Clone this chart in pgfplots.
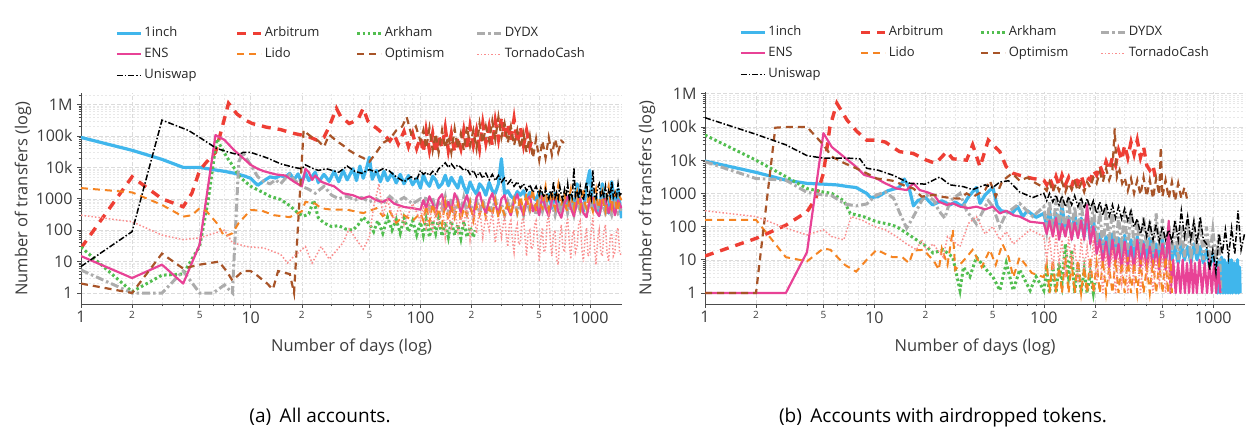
\documentclass[border=0pt]{standalone}
\usepackage{pgfplots}
\pgfplotsset{compat=1.18}
\usepackage{fontspec}
\setmainfont{Open Sans}
\definecolor{c1inch}{RGB}{64,182,236}
\definecolor{carb}{RGB}{238,62,52}
\definecolor{cark}{RGB}{82,190,80}
\definecolor{cdydx}{RGB}{172,172,172}
\definecolor{cens}{RGB}{232,66,150}
\definecolor{clido}{RGB}{245,132,34}
\definecolor{copt}{RGB}{168,84,40}
\definecolor{ctc}{RGB}{250,142,142}
\definecolor{cuni}{RGB}{0,0,0}
\definecolor{txt}{RGB}{60,60,60}
\newcommand\smalltick{\fontsize{10bp}{12bp}\selectfont}
\tikzset{
 s1inch/.style={c1inch,line width=3.2bp,solid,line join=round},
 sarb/.style={carb,line width=3.4bp,dash pattern=on 9bp off 7bp},
 sark/.style={cark,line width=3bp,dash pattern=on 2.6bp off 2.6bp},
 sdydx/.style={cdydx,line width=3bp,dash pattern=on 8bp off 3bp on 2.5bp off 3bp},
 sens/.style={cens,line width=2.2bp,solid,line join=round},
 slido/.style={clido,line width=2bp,dash pattern=on 7bp off 5bp},
 sopt/.style={copt,line width=2.2bp,dash pattern=on 7bp off 5bp},
 stc/.style={ctc,line width=1.5bp,dash pattern=on 1.5bp off 2bp},
 suni/.style={cuni,line width=1.5bp,dash pattern=on 6bp off 2bp on 1.5bp off 2bp},
}
\pgfplotsset{
 legend image code/.code={\draw[#1] (0bp,0bp) -- (24bp,0bp);},
 myaxis/.style={
  scale only axis, anchor=south west,
  xmin=1, xmax=1540,
  axis x line*=bottom, axis y line*=left,
  axis line style={color=black!70,line width=0.8bp},
  tick align=outside, major tick length=4bp, minor tick length=2.5bp,
  tick style={color=black!70,line width=0.6bp},
  xtick={1,2,5,10,20,50,100,200,500,1000},
  xticklabels={1,{\smalltick 2},{\smalltick 5},10,{\smalltick 2},{\smalltick 5},100,{\smalltick 2},{\smalltick 5},1000},
  minor xtick={3,4,6,7,8,9,30,40,60,70,80,90,300,400,600,700,800,900},
  ytick={1,10,100,1000,10000,100000,1000000},
  yticklabels={1,10,100,1000,10k,100k,1M},
  minor ytick={2,3,4,5,6,7,8,9,20,30,40,50,60,70,80,90,200,300,400,500,600,700,800,900,2000,3000,4000,5000,6000,7000,8000,9000,2e4,3e4,4e4,5e4,6e4,7e4,8e4,9e4,2e5,3e5,4e5,5e5,6e5,7e5,8e5,9e5,2e6},
  grid=both,
  major grid style={black!14,line width=0.5bp,dash pattern=on 4bp off 2bp},
  minor grid style={black!9,line width=0.5bp,dash pattern=on 2bp off 2bp},
  /pgf/number format/assume math mode=true,
  ticklabel style={font=\fontsize{16bp}{19bp}\selectfont,color=txt},
  yticklabel style={xshift=-1bp},
  label style={font=\fontsize{16.5bp}{19bp}\selectfont,color=txt},
  xlabel={Number of days (log)},
  ylabel={Number of transfers (log)},
  xlabel style={at={(axis description cs:0.5,0)},anchor=center,yshift=-43bp},
  ylabel style={at={(axis description cs:0,0.5)},anchor=center,yshift=58bp},
  legend columns=4,
  legend cell align=left,
  legend style={at={(axis description cs:0,1)},anchor=south west,xshift=34bp,yshift=7bp,
   draw=none,fill=none,inner sep=0pt,column sep=0bp,row sep=0bp,
   font=\fontsize{13bp}{15bp}\selectfont,text=black!85,
   nodes={inner xsep=2bp,inner ysep=4bp,text height=10bp,text depth=3bp}},
 }
}
\newcommand\leg[1]{\addlegendentry{\makebox[89bp][l]{#1}}}
\begin{document}
\begin{tikzpicture}[x=1bp,y=1bp]
\path[use as bounding box] (0,0) rectangle (1257,437);
% ---------------- (a) ----------------
\begin{axis}[xmode=log, ymode=log, myaxis, at={(81bp,133bp)}, width=541bp, height=211bp, ymin=0.447, ymax=2.34e6]
\addplot[s1inch] coordinates {(1,90000)(2,35000)(3,18000)(4,10000)(5,10000)(6,8500)(7,7500)(8,6500)(9,5500)(10,4500)(11,2700)(12,3800)(13,5000)(14,4600)(15,5500)(16,4800)(17,6500)(18,4000)(19,6200)(20,3200)(21,6800)(22,3800)(24,7000)(25,3300)(27,6000)(29,3600)(31,7500)(33,3500)(35,8000)(37,4000)(40,9000)(42,3800)(44,11000)(46,4500)(48,9000)(50,21000)(52,4200)(55,8000)(58,3500)(61,7500)(64,3800)(68,6500)(72,3200)(76,6000)(80,3000)(85,5500)(90,2800)(95,4500)(100,2200)
(104,5800)(108,3500)(113,2500)(118,5200)(123,4000)(128,2300)(134,3000)(140,5600)(146,2600)(152,4800)(159,3200)(166,2200)(173,5000)(180,2500)(188,1500)(196,3400)(205,2000)(214,1400)(223,3000)(233,2200)(243,1300)(254,3300)(265,1800)(276,1500)(288,3000)(300,19000)(313,1400)(327,1800)(341,1200)(356,1000)(372,1700)(388,1300)(405,1800)(422,1000)(441,1600)(460,1200)(480,900)(501,1700)(523,1000)(546,600)(570,1400)(595,500)(621,1500)(648,800)(676,450)(706,1300)(737,600)(769,1400)(802,400)(837,3000)(874,700)(912,400)(952,2500)(994,8000)(1037,500)(1082,1200)(1130,300)(1179,3000)(1230,600)(1284,350)(1340,3500)(1400,500)(1460,2000)(1530,240)};
\leg{1inch}
\addplot[sarb] coordinates {(1,27)(2,5000)(3,1000)(4,560)(4.5,1500)(5,8000)(5.5,15000)(6.2,30000)(7.4,1100000)(8.3,500000)(9.3,320000)(10.2,250000)(11.2,220000)(12.4,190000)(13.6,175000)(15,160000)(16.3,140000)(18,120000)(20,107000)(22,95000)(24.5,74000)(27,90000)(29,200000)(32,760000)(34,400000)(36,320000)(38,250000)(40,280000)(43,350000)(46,760000)(49,300000)(52,220000)(55,180000)(58,140000)(62,100000)(66,70000)(70,110000)(74,55000)(80,140000)(85,46000)(90,120000)(95,40000)(100,90000)
(104,30000)(108,150000)(113,35000)(118,120000)(123,28000)(128,100000)(134,40000)(140,180000)(146,35000)(152,120000)(159,30000)(166,90000)(173,40000)(180,150000)(188,35000)(196,200000)(205,50000)(214,150000)(223,40000)(233,250000)(243,60000)(254,200000)(265,50000)(276,300000)(288,80000)(300,400000)(313,90000)(327,250000)(341,70000)(356,350000)(372,60000)(388,200000)(405,50000)(422,150000)(441,45000)(450,66000)};
\leg{Arbitrum}
\addplot[sark] coordinates {(1,29)(2,1.1)(3,3.7)(4,4)(4.5,12)(5,30)(5.6,800)(6.3,80000)(7.2,22000)(7.9,10500)(8.6,5000)(10,2500)(11.5,1700)(13,1200)(15,950)(17,600)(19,350)(20.5,280)(22,330)(23.5,900)(25,250)(27,170)(30,130)(33,140)(36,110)(40,100)(43,150)(46,260)(50,160)(53,90)(56,200)(60,80)(64,260)(68,100)(72,220)(76,80)(80,250)(85,90)(90,200)(95,70)(100,180)
(104,70)(108,220)(113,60)(118,200)(123,80)(128,240)(134,65)(140,180)(146,60)(152,200)(159,70)(166,150)(173,55)(180,190)(188,60)(196,130)(205,60)(210,100)};
\leg{Arkham}
\addplot[sdydx] coordinates {(1,5.4)(2,1)(3,1)(4,5)(5,1)(6,1)(7,1.8)(7.8,1)(8.5,15000)(9,29000)(10,12000)(11,5000)(12,3500)(13,3000)(14,4000)(15,3000)(16,4500)(17,6000)(18,4000)(20,2500)(22,2000)(24,1500)(27,2500)(30,1300)(33,1000)(37,1200)(41,900)(45,1100)(50,800)(55,1000)(60,700)(66,1200)(72,800)(80,1100)(90,700)(100,1000)
(104,600)(108,1200)(113,500)(118,1100)(123,400)(128,900)(134,500)(140,1200)(146,400)(152,1000)(159,350)(166,900)(173,400)(180,1100)(188,350)(196,800)(205,300)(214,900)(223,350)(233,1000)(243,300)(254,800)(265,400)(276,1000)(288,350)(300,700)(313,300)(327,800)(341,400)(356,1000)(372,350)(388,700)(405,300)(422,900)(441,400)(460,700)(480,300)(501,800)(523,400)(546,1000)(570,350)(595,700)(621,300)(648,800)(676,400)(706,1200)(737,350)(769,700)(802,300)(837,900)(874,400)(912,800)(952,300)(994,1000)(1037,400)(1082,700)(1130,300)(1179,800)(1230,350)(1284,600)(1340,300)(1400,700)(1460,350)(1530,500)};
\leg{DYDX}
\addplot[sens] coordinates {(1,15)(2,3)(3,8)(4,2)(5,35)(6.2,107000)(7,75000)(8,35000)(9,20000)(10,12000)(11,9000)(12,7500)(14,6000)(16,5500)(18,3500)(20,2500)(21,9000)(22,7000)(23,4000)(24,5500)(26,3500)(28,3000)(31,2500)(35,1500)(40,1300)(45,1000)(50,1200)(55,900)(60,800)(65,1000)(70,700)(80,550)(90,500)(100,450)
(104,900)(108,500)(113,1200)(118,700)(123,350)(128,1000)(134,1400)(140,450)(146,800)(152,400)(159,1500)(166,900)(173,350)(180,700)(188,1300)(196,500)(205,300)(214,1100)(223,1600)(233,600)(243,350)(254,900)(265,1500)(276,700)(288,300)(300,1000)(313,1300)(327,500)(341,300)(356,800)(372,1400)(388,600)(405,300)(422,900)(441,1200)(460,400)(480,700)(501,300)(523,1300)(546,500)(570,280)(595,900)(621,1100)(648,400)(676,250)(706,700)(737,1200)(769,500)(802,280)(837,800)(874,1000)(912,350)(952,260)(994,900)(1037,1100)(1082,400)(1130,280)(1179,900)(1230,1000)(1284,350)(1340,800)(1400,300)(1460,900)(1530,500)};
\leg{ENS}
\addplot[slido] coordinates {(1,2200)(2,1600)(3,640)(4,270)(4.5,300)(5,500)(5.5,400)(6.3,170)(7,62)(7.8,80)(8.5,170)(10,440)(11.6,420)(13.7,300)(17,260)(20,400)(21,800)(24,700)(26,500)(30,450)(37,450)(46,350)(55,500)(60,280)(66,400)(72,170)(80,300)(90,200)(100,350)
(104,200)(108,600)(113,180)(118,700)(123,250)(128,500)(134,150)(140,800)(146,200)(152,600)(159,250)(166,700)(173,200)(180,500)(188,300)(196,800)(205,200)(214,600)(223,300)(233,700)(243,250)(254,500)(265,300)(276,900)(288,250)(300,600)(313,300)(327,800)(341,300)(356,1000)(372,350)(388,1200)
(405,400)(413,900)(422,1500)(431,600)(441,450)(450,1200)(460,2000)(470,700)(480,400)(490,1000)(501,1500)(512,600)(523,500)(534,1400)(546,2500)(558,800)(570,450)(582,1100)(595,1800)(608,700)(621,500)(634,1300)(648,2700)(662,900)(676,600)(690,1200)(706,1500)(721,500)(737,400)(753,1100)(769,2000)(785,800)(802,500)(819,1200)(837,1700)(855,600)(874,450)(893,1300)(912,2200)(932,700)(952,500)(972,1000)(994,1500)(1015,600)(1037,400)(1060,1200)(1082,2000)(1106,700)(1130,500)(1154,1300)(1179,1800)(1204,600)(1230,400)(1257,1500)(1284,2500)(1312,800)(1340,500)(1369,1100)(1400,1500)(1430,500)(1460,400)(1490,1200)(1530,900)};
\leg{Lido}
\addplot[sopt] coordinates {(1,2)(2,1)(3,18)(4,6)(5,8)(6.5,10)(7.2,5)(7.8,2.5)(9,5)(10,5)(11,3.5)(12.5,2)(13.5,1.3)(14.5,5)(17,4)(18,1)(20.5,155000)(21.5,120000)(23,90000)(25,70000)(27,45000)(29,110000)(32,70000)(35,50000)(38,35000)(42,25000)(46,20000)(50,15000)(55,30000)(60,60000)(66,80000)(72,150000)(78,200000)(83,400000)(88,120000)(94,200000)(100,70000)
(104,150000)(108,40000)(113,180000)(118,35000)(123,120000)(128,30000)(134,150000)(140,40000)(146,100000)(152,30000)(159,170000)(166,40000)(173,120000)(180,35000)(188,200000)(196,50000)(205,150000)(214,40000)(223,250000)(233,60000)(243,200000)(254,70000)(265,300000)(276,80000)(288,400000)(300,90000)(313,250000)(327,60000)(341,200000)(356,50000)(372,150000)(388,40000)(405,120000)(422,30000)(441,100000)(460,20000)(480,80000)(501,17000)(523,70000)(546,20000)(570,90000)(595,25000)(621,80000)(648,30000)(676,70000)(700,60000)};
\leg{Optimism}
\addplot[stc] coordinates {(1,300)(2,186)(3,70)(4,50)(5,57)(6.3,85)(7,100)(7.8,40)(9.5,30)(12,27)(15,17)(16.5,9)(18,15)(21,30)(23,9)(26,30)(29,12)(35,40)(38,110)(42,50)(46,25)(50,60)(53,560)(57,3000)(60,300)(64,900)(70,200)(75,600)(80,150)(90,700)(100,200)
(104,600)(108,100)(113,800)(118,80)(123,500)(128,120)(134,900)(140,60)(146,400)(152,100)(159,700)(166,70)(173,300)(180,150)(188,600)(196,50)(205,400)(214,80)(223,500)(233,60)(243,300)(254,100)(265,400)(276,40)(288,250)
(300,60)(313,300)(320,80)(327,30)(334,150)(341,200)(348,50)(356,20)(364,100)(372,150)(380,35)(388,40)(396,200)(405,250)(413,60)(422,15)(431,80)(441,100)(450,25)(460,30)(470,150)(480,200)(490,40)(501,10)(512,60)(523,120)(534,20)(546,25)(558,180)(570,300)(582,50)(595,15)(608,80)(621,100)(634,12)(648,8)(662,60)(676,150)(690,30)(706,20)(721,120)(737,250)(753,40)(769,12)(785,70)(802,100)(819,20)(837,30)(855,150)(874,200)(893,25)(912,10)(932,60)(952,120)(972,15)(994,20)(1015,100)(1037,250)(1060,30)(1082,8)(1106,50)(1130,100)(1154,20)(1179,15)(1204,90)(1230,150)(1257,20)(1284,10)(1312,60)(1340,80)(1369,15)(1400,20)(1430,90)(1460,120)(1490,20)(1530,15)};
\leg{TornadoCash}
\addplot[suni] coordinates {(1,7)(2,90)(3,320000)(4.3,150000)(5,90000)(6.3,40000)(7.5,30000)(8.5,25000)(9,30000)(10,30000)(12.5,20000)(15,13000)(18,10000)(20,9000)(21,12000)(23,9500)(25,8000)(28,9000)(33,7000)(37,11000)(41,7500)(45,6500)(50,8500)(55,7000)(60,9000)(65,8000)(72,5000)(80,3500)(88,5000)(95,4000)(100,8000)
(104,6000)(108,7000)(113,5500)(118,7500)(123,6000)(128,9000)(134,11000)(140,14000)(146,10000)(152,13000)(159,9500)(166,12000)(173,10000)(180,8000)(188,9000)(196,6000)(205,8000)(214,5000)(223,7000)(233,4500)(243,6500)(254,4000)(265,6000)(276,3800)(288,5500)(300,3400)(313,4600)(327,3000)(341,4000)(356,2500)(372,3500)(388,2200)(405,3000)(422,1800)(441,2800)(460,1600)(480,2500)
(501,1300)(512,2200)(523,1500)(534,1100)(546,2000)(558,1300)(570,1000)(582,1800)(595,1200)(608,3500)(621,1100)(634,1600)(648,1000)(662,2500)(676,1300)(690,900)(706,2000)(721,1200)(737,3000)(753,1000)(769,1500)(785,1100)(802,10000)(819,1200)(837,1800)(855,1000)(874,2500)(893,1300)(912,900)(932,2000)(952,3500)(972,1100)(994,1600)(1015,1000)(1037,8000)(1060,1200)(1082,1000)(1106,2200)(1130,3000)(1154,1100)(1179,1700)(1204,1200)(1230,2500)(1257,1000)(1284,1800)(1312,1200)(1340,3500)(1369,1100)(1400,1600)(1430,1200)(1460,3000)(1490,1300)(1530,1500)};
\leg{Uniswap}
\end{axis}
% ---------------- (b) ----------------
\begin{axis}[xmode=log, ymode=log, myaxis, at={(705bp,133bp)}, width=540bp, height=212bp, ymin=0.467, ymax=1.13e6]
\addplot[s1inch] coordinates {(1,9400)(2,4300)(3,2500)(4,2000)(5,1900)(6,1800)(7,1600)(7.8,1500)(9,1000)(9.5,750)(10.5,800)(12,1200)(14,1500)(15,2700)(16,1500)(17,420)(18,600)(20,750)(22,450)(25,600)(28,450)(30,550)(33,400)(36,800)(40,1500)(42,500)(45,900)(50,1500)(53,420)(56,300)(60,280)(65,250)(70,400)(75,200)(80,300)(90,190)(100,250)
(104,100)(108,300)(113,80)(118,250)(123,60)(128,450)(134,70)(140,200)(146,50)(152,250)(159,60)(166,180)(173,50)(180,220)(188,40)(196,150)(205,30)(214,60)(223,15)(233,50)(243,12)(254,60)(265,15)(276,45)(288,10)(300,55)(313,12)(327,40)(341,10)(356,50)(372,12)(388,35)(405,10)(422,45)(441,12)(460,30)(480,10)(501,40)(523,10)(546,30)(570,10)(595,25)(621,8)(648,30)(676,10)(706,25)(737,8)(769,30)(802,10)(837,25)(874,8)(912,20)(952,6)(994,15)(1037,5)(1060,1)(1080,10)(1100,1)(1120,12)(1140,1)(1160,10)(1180,1)(1200,8)(1220,1)(1240,10)(1260,1)(1280,10)(1300,1)(1330,8)(1360,1)(1390,10)(1410,1)(1430,6)(1440,1)};
\leg{1inch}
\addplot[sarb] coordinates {(1,13)(2,44)(3,110)(4,280)(4.5,700)(5,4000)(5.46,100000)(6,520000)(6.9,160000)(7.85,75000)(9,40000)(10.3,40000)(11.6,35000)(14.1,18000)(16.9,16000)(20.3,10000)(23,8000)(26.7,18000)(29,11000)(35,10000)(38,29000)(42,6300)(47,40000)(55,18000)(60,6300)(66,4000)(72,3500)(86,2800)(100,2500)
(104,1800)(108,3000)(113,1600)(118,3200)(123,1700)(128,3500)(134,1800)(140,3000)(146,1600)(152,3300)(159,2000)(166,3500)(173,1800)(180,3000)(188,2500)(196,5000)(205,3500)(214,7000)(223,4000)(233,9000)(243,5000)(254,12000)(265,7000)(276,20000)(288,10000)(300,28000)(313,12000)(327,35000)(341,15000)(356,40000)(372,12000)(388,25000)(405,7000)(422,5000)(441,7000)(455,3000)};
\leg{Arbitrum}
\addplot[sark] coordinates {(1,57000)(2,10000)(3,3200)(4,1400)(5,1100)(5.6,1000)(6.6,600)(7.2,250)(8.6,200)(10.3,140)(12,120)(13.5,100)(15.5,63)(17.7,40)(20.3,25)(22.2,16)(25.5,20)(29,12)(32,1.2)(33.5,6)(36.6,3.1)(40,12)(46,4.9)(50,3.1)(55,1.2)(60,8)(66,1.2)(72,5)(83,1.2)(90,3.1)(100,1.2)
(104,5)(108,1)(113,6)(118,1)(123,8)(128,2)(134,30)(140,3)(146,20)(152,1)(159,8)(166,1)(173,5)(180,1)(188,4)(196,1)(200,2)};
\leg{Arkham}
\addplot[sdydx] coordinates {(1,9000)(2,2800)(3,2500)(4,1070)(5,900)(5.6,850)(6.7,480)(7.8,420)(9,480)(10.3,900)(11.6,1100)(13,700)(14,280)(15.5,90)(17,200)(19,600)(20.3,900)(22.5,600)(24,300)(26,180)(28,600)(32,1000)(35,300)(40,120)(43,250)(47,600)(50,400)(55,100)(60,250)(72,500)(86,200)(100,400)
(104,80)(108,600)(113,60)(118,700)(123,100)(128,500)(134,50)(140,700)(146,80)(152,400)(159,60)(166,600)(173,70)(180,300)(188,50)(196,500)(205,30)(214,300)(223,20)(233,250)(243,40)(254,300)(265,15)(276,200)(288,30)(300,250)(313,20)(327,300)(341,25)(356,150)(372,15)(388,200)(405,20)(422,150)(441,15)(460,250)(480,20)(501,170)(523,10)(546,120)(570,15)(595,150)(621,10)(648,100)(676,12)(706,170)(737,10)(769,120)(802,15)(837,150)(874,10)(912,100)(952,12)(994,80)(1037,10)(1080,60)(1110,1)};
\leg{DYDX}
\addplot[sens] coordinates {(1,1)(2,1)(3,1)(4,17)(5,65000)(5.6,25000)(7.8,6300)(8.7,3600)(10.3,2800)(11.6,2000)(13.5,1400)(15.5,1260)(17,2000)(18.5,1260)(20.3,1100)(22.5,900)(24,560)(26.7,450)(29,500)(32,400)(36,360)(40,400)(45,330)(50,400)(55,250)(60,300)(66,220)(72,200)(83,140)(100,126)
(104,60)(108,150)(113,50)(118,180)(123,40)(128,120)(134,50)(140,160)(146,40)(152,130)(159,45)(166,150)(173,40)(180,450)(188,30)(196,100)(205,15)(214,40)(223,8)(233,35)(243,6)(254,40)(265,8)(276,30)(288,5)(300,35)(313,6)(327,25)(341,5)(356,40)(372,6)(388,30)(405,5)(422,25)(441,6)(460,20)(480,5)(501,30)(523,5)(546,150)(560,1)(580,10)(600,1)(620,8)(640,1)(660,10)(680,1)(700,8)(720,1)(740,10)(760,1)(780,8)(800,1)(830,10)(860,1)(890,8)(920,1)(950,10)(980,1)(1010,8)(1040,1)(1070,6)(1100,1)};
\leg{ENS}
\addplot[slido] coordinates {(1,160)(2,160)(3,12)(4,9)(5,22)(5.5,20)(6.7,7)(7.8,4.4)(9,10)(10.3,20)(11.6,15)(12.8,12)(14.6,12)(16,8)(17,19)(19.5,20)(22.5,9)(24,5)(25,22)(27,7)(29,80)(30,5)(35,12)(38,20)(43,6)(48,20)(52,7)(57,30)(62,12)(66,3)(72,12)(85,4)(100,3)
(104,8)(108,1)(113,10)(118,1)(123,6)(128,1)(134,12)(140,1)(146,8)(152,1)(159,10)(166,1)(173,6)(180,1)(188,12)(196,1)(205,8)(214,1)(223,10)(233,1)(243,6)(254,1)(265,10)(276,1)(288,8)(300,1)(313,12)(327,1)(341,8)(356,1)(372,10)(388,1)(405,6)(422,1)(441,10)(460,1)(480,8)(501,1)(523,12)(540,1)(560,10)(570,1)};
\leg{Lido}
\addplot[sopt] coordinates {(1,1)(2,1)(2.6,95000)(3.05,100000)(4,100000)(5,29000)(5.6,12700)(6.7,8000)(7.8,5700)(9,4000)(10.3,2800)(11.6,2600)(12.8,2400)(14,2000)(15.5,1600)(17,1400)(19,800)(22.5,900)(25.5,780)(29,710)(32,700)(35,1000)(38,780)(45,1260)(48,2400)(52,800)(57,2400)(65,4000)(72,2400)(80,3000)(90,2000)(100,1500)
(104,1200)(108,2200)(113,1100)(118,2000)(123,1200)(128,2200)(134,1100)(140,2000)(146,1300)(152,2200)(159,1200)(166,2000)(173,1100)(180,2200)(188,1500)(196,3000)(205,2000)(214,4500)(223,2200)(233,5600)(243,2500)(254,5000)(262,90000)(270,3000)(280,5000)(290,2000)(300,3000)(313,1200)(327,2800)(341,1000)(356,2500)(372,900)(388,3000)(405,800)(422,2500)(441,700)(460,2800)(480,900)(490,25000)(501,800)(523,2500)(546,700)(570,2200)(595,600)(621,2000)(648,700)(676,1500)(700,700)};
\leg{Optimism}
\addplot[stc] coordinates {(1,300)(2,200)(3,90)(4,56)(5,80)(5.6,50)(6.6,40)(7.3,200)(8.6,150)(10,100)(11.6,80)(13.5,50)(15.5,30)(17.7,20)(19,40)(20.3,20)(22.2,30)(25.5,12)(27,50)(32,25)(36,126)(40,200)(45,60)(50,100)(55,40)(60,70)(66,30)(83,80)(100,50)
(104,10)(108,50)(113,5)(118,60)(123,8)(128,40)(134,3)(140,50)(146,6)(152,30)(159,2)(166,45)(173,5)(180,25)(188,3)(196,40)(205,2)(214,20)(223,1)(233,15)(243,3)(254,20)(265,1)(276,12)(288,2)(300,18)(313,1)(327,10)(341,2)(356,20)(372,1)(388,12)(405,3)(422,15)(441,1)(460,10)(480,2)(501,15)(523,1)(546,10)(560,1)};
\leg{TornadoCash}
\addplot[suni] coordinates {(1,190000)(2,60000)(3,29000)(4,13700)(5,11500)(7,11500)(8.2,11000)(9,5700)(10.5,5000)(12.9,3500)(16.2,2000)(20,1900)(24.3,3100)(28,1800)(33.4,1600)(38,1300)(45,1800)(50,1500)(55,2200)(62,2400)(72,1100)(86,750)(100,1000)
(104,600)(108,1000)(113,550)(118,900)(123,450)(128,850)(134,400)(140,800)(146,450)(152,850)(159,400)(166,750)(173,350)(180,700)(188,350)(196,600)(205,250)(214,550)(223,220)(233,500)(243,200)(254,450)(265,180)(276,400)(288,170)(300,350)(313,150)(327,300)(341,100)(356,170)(372,60)(388,150)(405,50)(422,130)(441,40)(460,120)(480,35)(501,100)(523,40)(546,80)(570,35)(595,150)(621,40)(648,300)(676,50)(706,200)(737,40)(769,150)(802,30)(837,200)(874,40)(912,30)(952,5)(994,20)(1037,4)(1082,60)(1130,15)(1179,80)(1230,12)(1284,90)(1340,15)(1400,300)(1460,20)(1530,60)};
\leg{Uniswap}
\end{axis}
\node[anchor=base,font=\fontsize{19bp}{22bp}\selectfont] at (320,14) {(a)\hspace{0.45em}All accounts.};
\node[anchor=base,font=\fontsize{19bp}{22bp}\selectfont] at (943,14) {(b)\hspace{0.45em}Accounts with airdropped tokens.};
\end{tikzpicture}
\end{document}
